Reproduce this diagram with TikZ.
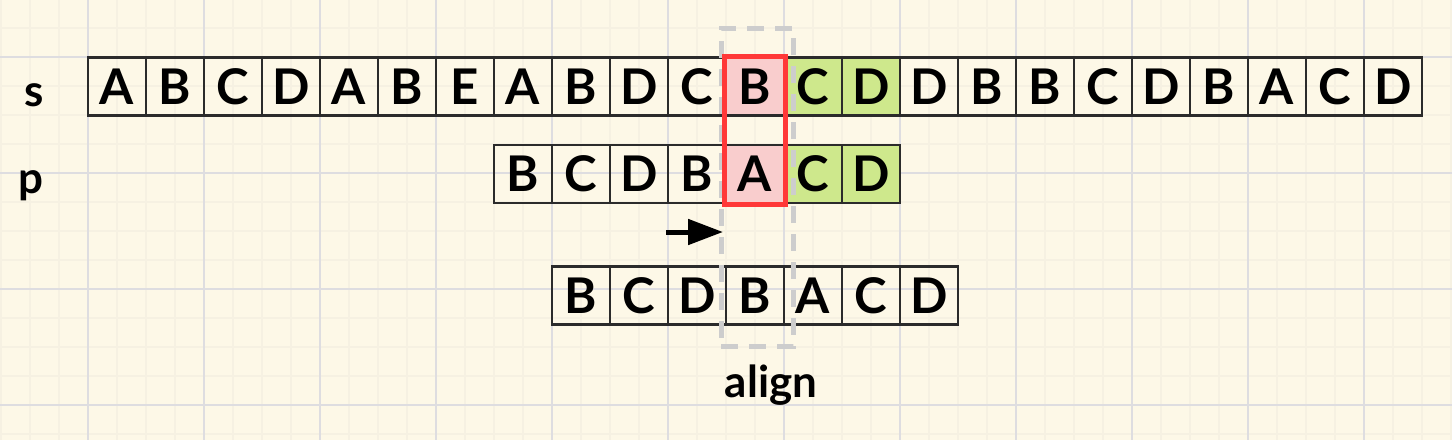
\documentclass[tikz,border=0pt]{standalone}
\usepackage{fontspec}
\setmainfont{Lato}
\usetikzlibrary{arrows.meta,fit}
\definecolor{paper}{HTML}{FDF8E7}
\definecolor{minorgrid}{HTML}{F6F1E2}
\definecolor{majorgrid}{HTML}{DEDDE0}
\definecolor{cellline}{HTML}{2B2B2B}
\definecolor{hitpink}{HTML}{F9CDCD}
\definecolor{hitred}{HTML}{FF3838}
\definecolor{matchgreen}{HTML}{CEE88C}
\definecolor{framegray}{HTML}{CDCDCD}
\begin{document}
\begin{tikzpicture}[x=0.02cm,y=-0.02cm,
    cell/.style={draw=cellline,line width=0.05cm,minimum size=1.16cm,inner sep=0pt,
        font=\fontsize{28}{30}\selectfont\bfseries},
    hit/.style={cell,fill=hitpink},
    match/.style={cell,fill=matchgreen},
    seqname/.style={font=\fontsize{25}{28}\selectfont\bfseries,anchor=base},
    push/.style={-{Triangle[length=0.7cm,width=0.5cm]},line width=0.1cm,shorten >=0pt}]
    \fill[paper] (0,0) rectangle (1452,440);
    \useasboundingbox (0,0) rectangle (1452,440);
    % squared paper
    \foreach \gx in {1,30,...,1452} \draw[minorgrid,line width=0.04cm] (\gx,0) -- (\gx,440);
    \foreach \gy in {-1,28,...,440} \draw[minorgrid,line width=0.04cm] (0,\gy) -- (1452,\gy);
    \foreach \gx in {88,204,...,1452} \draw[majorgrid,line width=0.03cm] (\gx,0) -- (\gx,440);
    \foreach \gy in {57,173,...,440} \draw[majorgrid,line width=0.03cm] (0,\gy) -- (1452,\gy);

    \node[seqname] (name_s) at (34,106) {s};
    \node[seqname] (name_p) at (31,193) {p};

    % text, pattern and shifted pattern
    \foreach \ch/\sty [count=\i] in {A/cell,B/cell,C/cell,D/cell,A/cell,B/cell,E/cell,A/cell,
        B/cell,D/cell,C/cell,B/hit,C/match,D/match,D/cell,B/cell,B/cell,C/cell,D/cell,
        B/cell,A/cell,C/cell,D/cell}
        \node[\sty] (s_\i) at ({59+58*\i},86.5) {\ch};
    \foreach \ch/\sty [count=\i] in {B/cell,C/cell,D/cell,B/cell,A/hit,C/match,D/match}
        \node[\sty] (p_\i) at ({465+58*\i},174) {\ch};
    \foreach \ch [count=\i] in {B,C,D,B,A,C,D}
        \node[cell] (a_\i) at ({523+58*\i},295.5) {\ch};

    \node[draw=framegray,line width=0.1cm,dash pattern=on 0.34cm off 0.22cm,
        minimum width=1.44cm,minimum height=6.38cm] (frame) at (757,187.5) {};
    \node[draw=hitred,line width=0.1cm,inner sep=0pt,fit=(s_12)(p_5)] (mismatch) {};

    \coordinate (push_from) at (666,232);
    \coordinate (push_to) at (723,232);
    \draw[push] (push_from) -- (push_to);

    \node[seqname] (align) at (771,397) {align};
\end{tikzpicture}
\end{document}
